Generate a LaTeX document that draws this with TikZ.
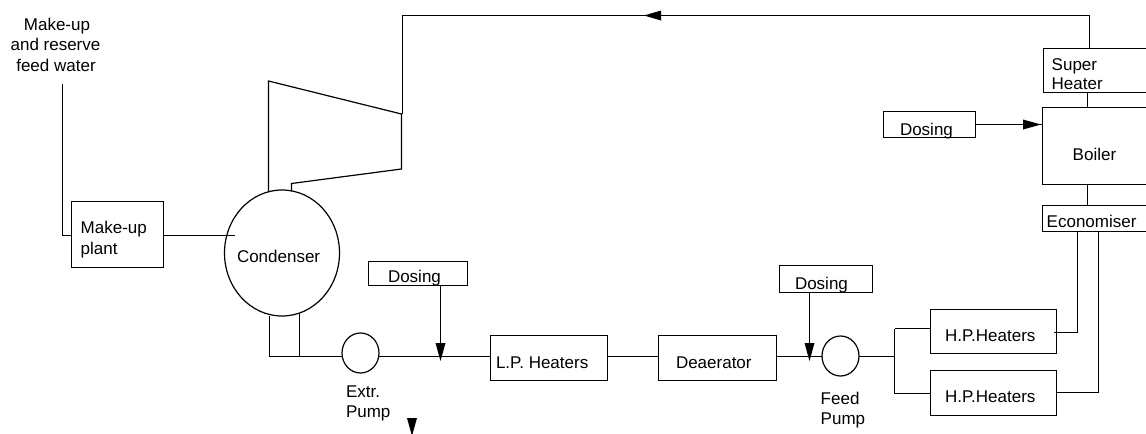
\documentclass[tikz,border=0pt]{standalone}
\usepackage{fontspec}
\setmainfont{Liberation Sans}
\usetikzlibrary{shapes.geometric}
\tikzset{
  x=0.75pt,y=-0.75pt,
  line width=0.9pt,
  boxn/.style={draw=black,rectangle,inner sep=0pt,outer sep=0pt,line width=0.9pt},
  circn/.style={draw=black,ellipse,inner sep=0pt,outer sep=0pt,line width=0.9pt},
  txt/.style={anchor=base west,inner sep=0pt,outer sep=0pt,font=\fontsize{12.75}{15.4}\selectfont},
  flow/.style={draw=black,line width=0.9pt},
}
\newcommand{\boxat}[5]{\node[boxn,minimum width=#4*0.75pt,minimum height=#5*0.75pt] (#1) at (#2,#3) {};}
\newcommand{\headdown}[3]{\fill[black] (#1-5,#2) -- (#1+5,#2) -- (#1,#3) -- cycle;}
\begin{document}
\begin{tikzpicture}
\path[use as bounding box] (0,0) rectangle (1146,433);
\fill[white] (0,0) rectangle (1146,433);
% boxes
\boxat{plant}{117.5}{234.5}{92}{66}
\boxat{dosa}{418}{273.5}{99}{24}
\boxat{dosb}{826}{279}{93}{27}
\boxat{dosc}{929.5}{124.5}{92}{26}
\boxat{lp}{549}{358}{117}{45}
\boxat{dea}{717.5}{358}{118}{45}
\boxat{hpa}{993.5}{331.5}{126}{44}
\boxat{hpb}{993.5}{393}{126}{45}
\boxat{sup}{1103.5}{70.5}{120}{44}
\boxat{boi}{1102.5}{146}{120}{77}
\boxat{eco}{1102.5}{218.5}{120}{26}
% vessels
\node[circn,minimum width=115*0.75pt,minimum height=126*0.75pt] (cond) at (282,253) {};
\node[circn,minimum width=37*0.75pt,minimum height=40*0.75pt] (epump) at (360.5,353) {};
\node[circn,minimum width=37*0.75pt,minimum height=40*0.75pt] (fpump) at (840.5,356) {};
% coordinates
\coordinate (mkfree) at (62.5,84);
\coordinate (mkcorner) at (62.5,235.5);
\coordinate (cin) at (235,235.5);
\coordinate (tla) at (268.5,192);
\coordinate (tlb) at (268.5,81);
\coordinate (tra) at (401.5,114);
\coordinate (trb) at (401.5,169);
\coordinate (tbot) at (291.5,183.5);
\coordinate (tend) at (291.5,191);
\coordinate (stma) at (402.5,114);
\coordinate (stm) at (402.5,15.5);
\coordinate (stmb) at (1089.5,15.5);
\coordinate (jl) at (269.5,356.5);
\coordinate (jr) at (299.5,356.5);
\coordinate (ja) at (440.5,356.5);
\coordinate (jb) at (809.5,356.5);
\coordinate (sp) at (894.5,356.5);
\coordinate (spt) at (894.5,328.5);
\coordinate (spb) at (894.5,393.5);
\coordinate (ea) at (1077.5,332.5);
\coordinate (eb) at (1098.5,392.5);
\coordinate (dc) at (1000,124.5);
\coordinate (sb) at (1087.5,100);
\coordinate (be) at (1087.5,195);
% connectors
\draw[flow] (mkfree) -- (mkcorner) -- (plant.west |- mkcorner);
\draw[flow] (plant.east |- cin) -- (cin);
\draw[flow] (tla) -- (tlb) -- (tra) -- (trb) -- (tbot) -- (tend);
\draw[flow] (stma) -- (stm) -- (stmb) -- (sup.north -| stmb);
\fill[black] (644,15.5) -- (661,10.5) -- (661,20.5) -- cycle;
\draw[flow] (269.5,316) -- (jl);
\draw[flow] (299.5,314) -- (jr);
\draw[flow] (jl) -- (epump.west |- jl);
\draw[flow] (epump.east |- ja) -- (lp.west |- ja);
\draw[flow] (lp.east |- ja) -- (dea.west |- ja);
\draw[flow] (dea.east |- jb) -- (fpump.west |- jb);
\draw[flow] (fpump.east |- sp) -- (sp);
\draw[flow] (spt) -- (spb);
\draw[flow] (spt) -- (hpa.west |- spt);
\draw[flow] (spb) -- (hpb.west |- spb);
\draw[flow] (dosa.south -| ja) -- (ja);
\headdown{440.5}{343}{361}
\draw[flow] (dosb.south -| jb) -- (jb);
\headdown{809.5}{343}{361}
\draw[flow] (dosc.east |- dc) -- (boi.west |- dc);
\fill[black] (1041,124.5) -- (1023,119.5) -- (1023,129.5) -- cycle;
\draw[flow] (sup.south -| sb) -- (boi.north -| sb);
\draw[flow] (boi.south -| be) -- (eco.north -| be);
\draw[flow] (1054,332.5) -- (ea) -- (eco.south -| ea);
\draw[flow] (hpb.east |- eb) -- (eb) -- (eco.south -| eb);
\headdown{412}{418}{436}
% labels
\node[txt,anchor=base] (mk1) at (57,30) {Make-up};
\node[txt,anchor=base] (mk2) at (55.5,50) {and reserve};
\node[txt,anchor=base] (mk3) at (56,71) {feed water};
\node[txt] (t1) at (80.7,233) {Make-up};
\node[txt] (t2) at (80.7,254) {plant};
\node[txt] (t3) at (237,262) {Condenser};
\node[txt] (t4) at (388,282) {Dosing};
\node[txt] (t5) at (346,397) {Extr.};
\node[txt] (t6) at (346,417.7) {Pump};
\node[txt] (t7) at (496,368) {L.P. Heaters};
\node[txt] (t8) at (676,368) {Deaerator};
\node[txt] (t9) at (795,289) {Dosing};
\node[txt] (t10) at (820.7,404) {Feed};
\node[txt] (t11) at (820.7,424) {Pump};
\node[txt] (t12) at (1051.7,70) {Super};
\node[txt] (t13) at (1051.7,89) {Heater};
\node[txt] (t14) at (900,135) {Dosing};
\node[txt] (t15) at (1072.7,160) {Boiler};
\node[txt] (t16) at (1046.7,227.7) {Economiser};
\node[txt] (t17) at (945,341) {H.P.Heaters};
\node[txt] (t18) at (945,402) {H.P.Heaters};
\end{tikzpicture}
\end{document}
